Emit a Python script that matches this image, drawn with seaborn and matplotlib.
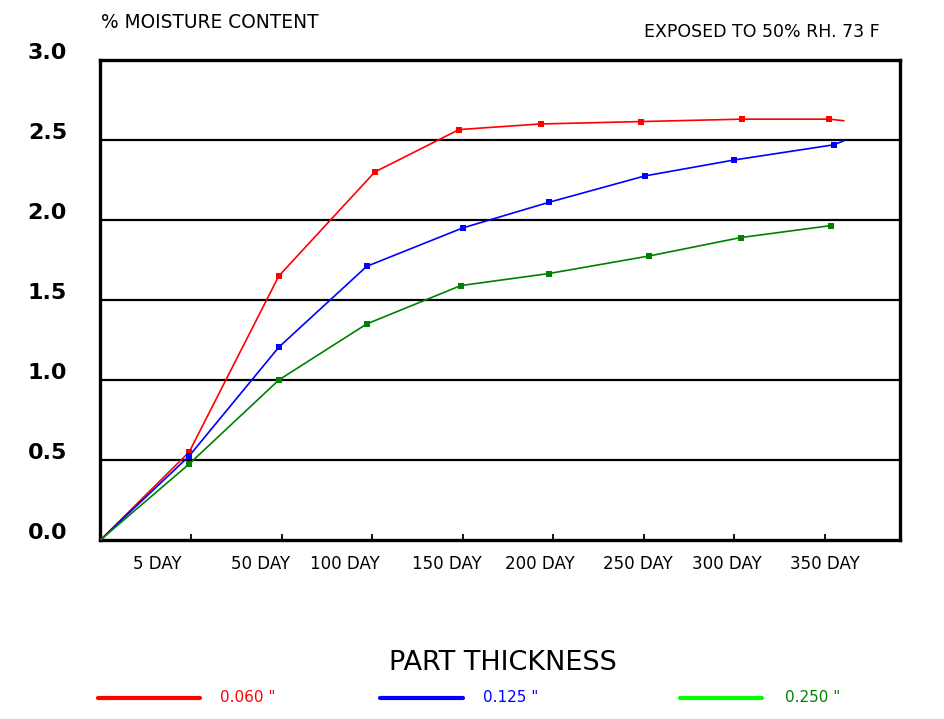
import matplotlib
matplotlib.use("Agg")
import matplotlib.pyplot as plt
from matplotlib.lines import Line2D
from matplotlib.transforms import ScaledTranslation
import pandas as pd
import seaborn as sns

# ---- data -------------------------------------------------------------
# x is measured in tick steps (0 = start, 1 = "5 DAY", 2 = "50 DAY", ...)
red_x = [0, 0.98, 1.97, 3.03, 3.96, 4.86, 5.97, 7.08, 8.05]
red_y = [0, 0.55, 1.65, 2.30, 2.565, 2.60, 2.615, 2.63, 2.63]
red_end = (8.21, 2.62)

blue_x = [0, 0.98, 1.97, 2.94, 4.00, 4.95, 6.01, 7.00, 8.10]
blue_y = [0, 0.525, 1.205, 1.71, 1.95, 2.11, 2.275, 2.375, 2.47]
blue_end = (8.21, 2.495)

green_x = [0, 0.98, 1.97, 2.94, 3.98, 4.95, 6.06, 7.07, 8.07]
green_y = [0, 0.475, 1.0, 1.35, 1.59, 1.665, 1.775, 1.89, 1.965]
green_end = None

series_names = ['0.060 "', '0.125 "', '0.250 "']
day_labels = ["5 DAY", "50 DAY", "100 DAY", "150 DAY",
              "200 DAY", "250 DAY", "300 DAY", "350 DAY"]
y_ticks = [0.0, 0.5, 1.0, 1.5, 2.0, 2.5, 3.0]

# ---- styling ----------------------------------------------------------
sns.set_style("white")
plt.rcParams["font.family"] = ["DejaVu Sans"]
plt.rcParams["text.color"] = "black"
plt.rcParams["xtick.color"] = "black"
plt.rcParams["ytick.color"] = "black"

line_colors = ["#ff0000", "#0000ff", "#008000"]
key_colors = ["#ff0000", "#0000ff", "#00ff00"]
text_colors = ["#ff0000", "#0000ff", "#008000"]

fig = plt.figure(figsize=(9.45, 7.19), dpi=100)
ax = fig.add_axes([0.1063, 0.249, 0.8461, 0.6676])

series = [(red_x, red_y, red_end), (blue_x, blue_y, blue_end),
          (green_x, green_y, green_end)]

for (xs, ys, end), name, col in zip(series, series_names, line_colors):
    lx, ly = list(xs), list(ys)
    if end is not None:
        lx.append(end[0])
        ly.append(end[1])
    line_df = pd.DataFrame({"x": lx, "y": ly})
    sns.lineplot(data=line_df, x="x", y="y", ax=ax, color=col, lw=1.2,
                 sort=False, estimator=None, zorder=3)
    pts = pd.DataFrame({"x": xs[1:], "y": ys[1:]})
    sns.scatterplot(data=pts, x="x", y="y", ax=ax, color=col, marker="s",
                    s=22, linewidth=0, zorder=4)

ax.set_xlim(0, 8.83)
ax.set_ylim(0, 3.0)
ax.set_xlabel("")
ax.set_ylabel("")

# horizontal reference lines
for v in y_ticks[1:-1]:
    ax.axhline(v, color="black", lw=1.6, zorder=2)

for sp in ax.spines.values():
    sp.set_visible(True)
    sp.set_color("black")
    sp.set_linewidth(2.4)

# y axis labels, lifted slightly above their lines
ax.set_yticks(y_ticks)
ax.set_yticklabels([f"{v:.1f}" for v in y_ticks], fontsize=16,
                   fontweight="bold", color="black")
ax.tick_params(axis="y", length=0, pad=24)
lift = ScaledTranslation(0, 0.09, fig.dpi_scale_trans)
for lab in ax.get_yticklabels():
    lab.set_transform(lab.get_transform() + lift)

# x axis: inward tick marks at each step, day labels placed between
ax.xaxis.remove_overlapping_locs = False
ax.set_xticks(range(1, 9))
ax.set_xticklabels([])
ax.tick_params(axis="x", which="major", direction="in", length=4.5,
               width=1.3, color="black", bottom=True)
label_pos = [0.63, 1.77, 2.70, 3.83, 4.85, 5.93, 6.92, 8.00]
ax.set_xticks(label_pos, minor=True)
ax.set_xticklabels(day_labels, minor=True, fontsize=12, color="black")
ax.tick_params(axis="x", which="minor", length=0, pad=11)

# titles
fig.text(0.107, 0.969, "% MOISTURE CONTENT", fontsize=13.4, ha="left",
         va="center")
fig.text(0.931, 0.955, "EXPOSED TO 50% RH. 73 F", fontsize=12.5,
         ha="right", va="center")
fig.text(0.532, 0.078, "PART THICKNESS", fontsize=19.5, ha="center",
         va="center")

# key along the bottom
key_spans = [(98, 200, 220), (380, 463, 483), (680, 762, 785)]
ky = 1 - 698 / 719
for (x0, x1, tx), name, kc, tc in zip(key_spans, series_names, key_colors,
                                      text_colors):
    fig.add_artist(Line2D([x0 / 945, x1 / 945], [ky, ky], color=kc, lw=3,
                          transform=fig.transFigure))
    fig.text(tx / 945, ky, name, color=tc, fontsize=11, ha="left",
             va="center")

fig.savefig("out.png", dpi=100)
